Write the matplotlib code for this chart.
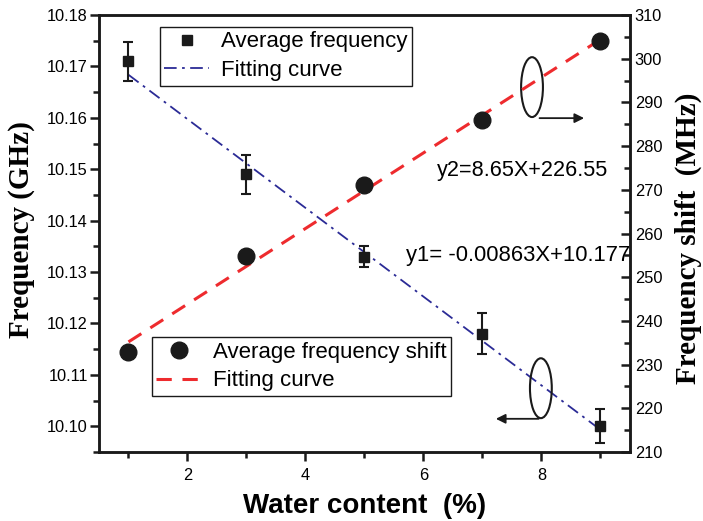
import numpy as np
import matplotlib.pyplot as plt
from matplotlib.patches import Ellipse
from matplotlib.lines import Line2D

plt.rc('font', family='Liberation Sans', size=11.8)

# datos
water = [1, 3, 5, 7, 9]
freq = [10.171, 10.149, 10.133, 10.118, 10.100]
freq_err = [0.0038, 0.0038, 0.0020, 0.0040, 0.0033]
shift = [233.0, 254.8, 271.0, 286.0, 304.0]

# ajustes lineales (del grafico)
k1, b1 = -0.00863, 10.177
k2, b2 = 8.65, 226.55
xfit = np.array([1, 9])

azul = '#2b2b96'
rojo = '#ee2b2e'
negro = '#1a1a1a'
guion_punto = (0, (7, 3, 1.5, 3))

fig = plt.figure(figsize=(7.03, 5.21), dpi=100)
ax = fig.add_axes([0.1408, 0.1324, 0.7553, 0.8388])
ax2 = ax.twinx()

ax.errorbar(water, freq, yerr=freq_err, fmt='s', color=negro, ms=6.5,
            capsize=3.5, elinewidth=1.5, capthick=1.5, zorder=3)
ax.plot(xfit, k1 * xfit + b1, color=azul, lw=1.3, linestyle=guion_punto)

ax2.plot(water, shift, 'o', color=negro, ms=12, zorder=3)
ax2.plot(xfit, k2 * xfit + b2, color=rojo, lw=2.2, linestyle=(0, (5, 3.5)))

# Ejes
ax.set_xlim(0.5, 9.5)
ax.set_ylim(10.095, 10.18)
ax2.set_ylim(210, 310)
ax.set_xticks([2, 4, 6, 8])
ax.set_xticks([1, 3, 5, 7, 9], minor=True)
yt = np.arange(10.10, 10.181, 0.01)
ax.set_yticks(yt)
ax.set_yticklabels(['%.2f' % v for v in yt])
ax.set_yticks(np.arange(10.095, 10.18, 0.01), minor=True)
ax2.set_yticks(np.arange(210, 311, 10))
ax2.set_yticks(np.arange(215, 310, 10), minor=True)

for a in (ax, ax2):
    for s in a.spines.values():
        s.set_linewidth(1.8)
        s.set_color(negro)
ax.tick_params(which='major', direction='out', length=6.5, width=1.8, color=negro, pad=1.5)
ax.tick_params(which='minor', direction='out', length=4, width=1.8, color=negro)
ax.tick_params(axis='x', which='major', pad=5)
ax2.tick_params(which='major', direction='in', length=6.5, width=1.8, color=negro, pad=3.5)
ax2.tick_params(which='minor', direction='in', length=4, width=1.8, color=negro)
ax.tick_params(top=False, right=False, which='both')

ax.set_xlabel('Water content  (%)', fontsize=20, fontweight='bold', labelpad=7)
ax.set_ylabel('Frequency (GHz)', fontsize=21, fontweight='bold',
              family='Liberation Serif')
ax.yaxis.set_label_coords(-0.1205, 0.51)
ax2.set_ylabel('Frequency shift  (MHz)', fontsize=21, fontweight='bold',
               family='Liberation Serif')
ax2.yaxis.set_label_coords(1.084, 0.49)

# Leyendas
h1 = [Line2D([], [], marker='s', ls='none', color=negro, ms=6.5),
      Line2D([], [], color=azul, lw=1.3, linestyle=guion_punto)]
leg1 = ax2.legend(h1, ['Average frequency', 'Fitting curve'], loc='upper left',
                  bbox_to_anchor=(0.115, 0.9725), fancybox=False, edgecolor=negro,
                  framealpha=1, fontsize=16, handlelength=2.0, borderpad=0.2,
                  borderaxespad=0, labelspacing=0.35, handletextpad=0.55)
leg1.get_frame().set_linewidth(1.0)
ax2.add_artist(leg1)

h2 = [Line2D([], [], marker='o', ls='none', color=negro, ms=12),
      Line2D([], [], color=rojo, lw=2.2, linestyle=(0, (5, 3.5)))]
leg2 = ax2.legend(h2, ['Average frequency shift', 'Fitting curve'], loc='upper left',
                  bbox_to_anchor=(0.0998, 0.263), fancybox=False, edgecolor=negro,
                  framealpha=1, fontsize=16, handlelength=2.0, borderpad=0.2,
                  borderaxespad=0, labelspacing=0.35, handletextpad=0.55)
leg2.get_frame().set_linewidth(1.0)

# Ecuaciones
ax2.text(9.13, 274.5, 'y2=8.65X+226.55', fontsize=15.6, ha='right', va='center')
ax2.text(9.5, 254.9, 'y1= -0.00863X+10.177', fontsize=15.8, ha='right', va='center')

# Elipses y flechas
ax2.add_patch(Ellipse((7.84, 293.5), 0.37, 13.7, fill=False, lw=1.5, ec=negro))
ax2.annotate('', xy=(8.77, 286.4), xytext=(7.92, 286.4),
             arrowprops=dict(arrowstyle='-|>', color=negro, lw=1.3, mutation_scale=14))
ax2.add_patch(Ellipse((7.99, 224.6), 0.37, 13.7, fill=False, lw=1.5, ec=negro))
ax2.annotate('', xy=(7.18, 217.6), xytext=(8.0, 217.6),
             arrowprops=dict(arrowstyle='-|>', color=negro, lw=1.3, mutation_scale=14))

plt.savefig('out.png', dpi=100)
